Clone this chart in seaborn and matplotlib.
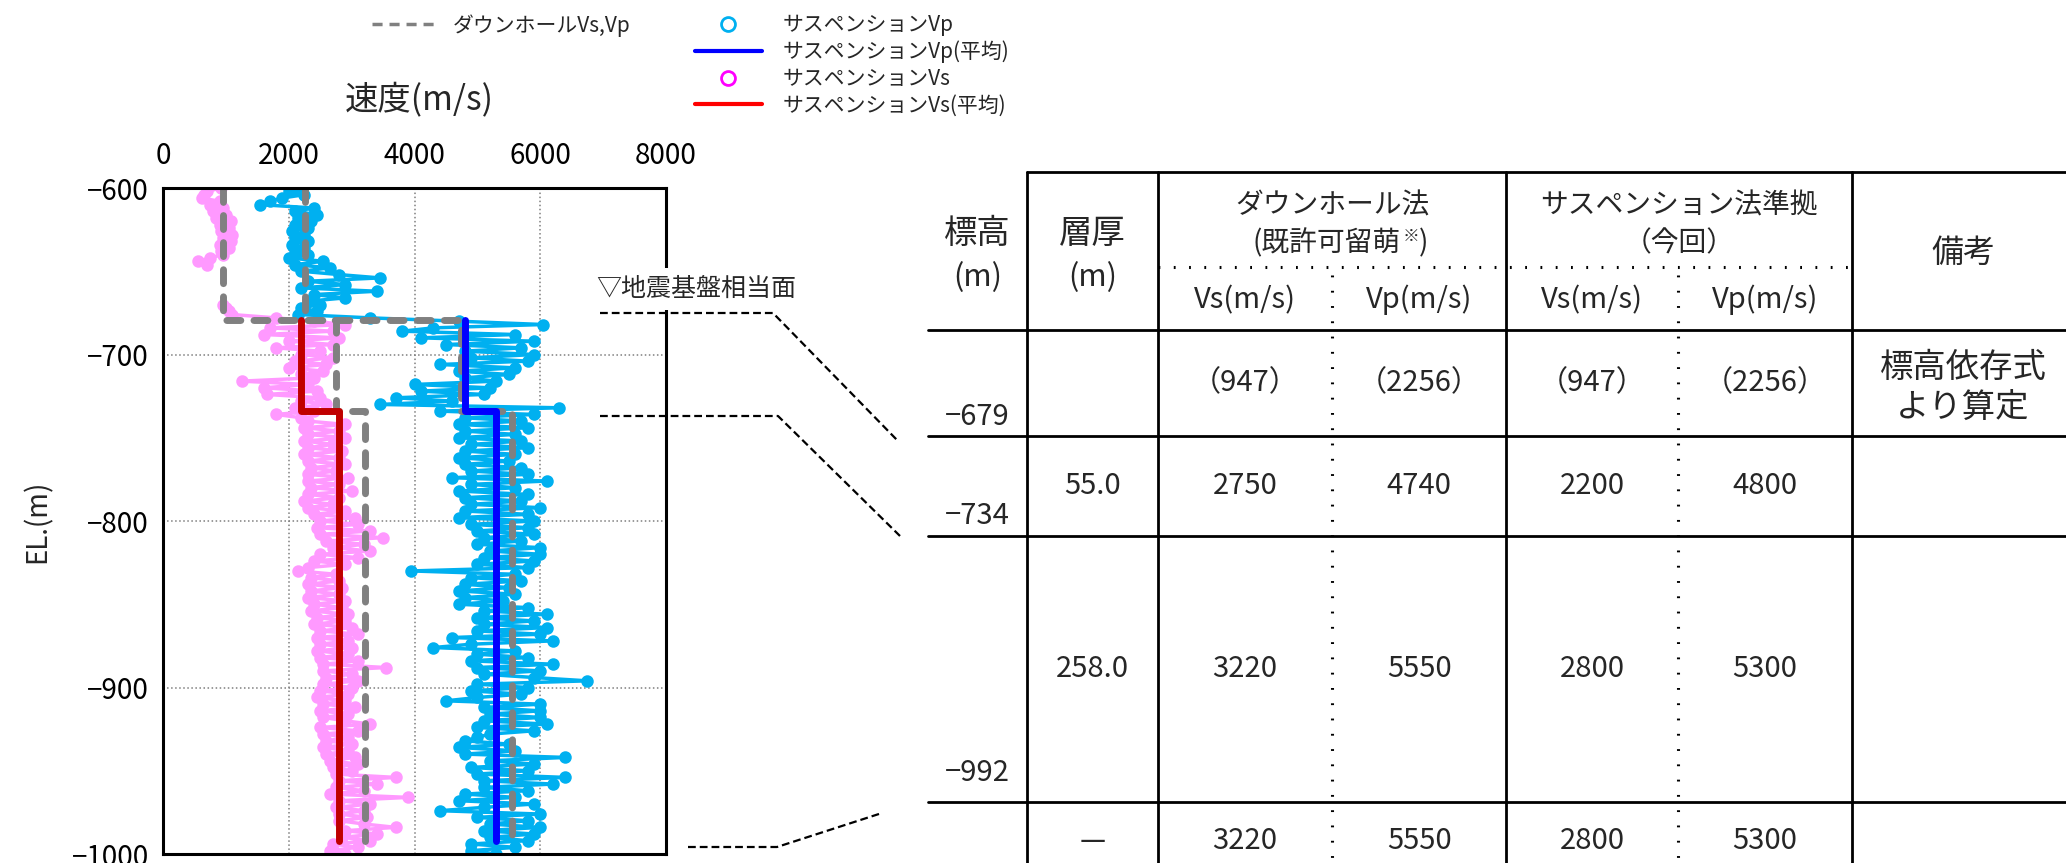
"""
Suspension / downhole velocity log vs. EL, with the layer table on the right
"""

import numpy as np
import pandas as pd
import matplotlib
matplotlib.use("Agg")
import matplotlib.pyplot as plt
from matplotlib.lines import Line2D
import seaborn as sns

# ── Table values (layer model) ───────────────────────────────────────────────
EL_BOUNDS = [-600, -679, -734, -992]          # layer boundaries (m)
TBL_EL = ["−679", "−734", "−992"]
TBL_THICK = ["", "55.0", "258.0", "—"]
TBL_DH_VS = [947, 2750, 3220, 3220]
TBL_DH_VP = [2256, 4740, 5550, 5550]
TBL_SUS_VS = [947, 2200, 2800, 2800]
TBL_SUS_VP = [2256, 4800, 5300, 5300]

# ── Suspension log, 2 m sampling from EL -600 to -1000 ───────────────────────
DEPTH = np.arange(-600, -1001, -2)
SUS_VP = [
    2180, 2000, 2250, 1900, 1700, 1550, 2400, 2100, 2450, 2150,
    2350, 2100, 2300, 2050, 2250, 2100, 2300, 2050, 2250, 2100,
    2300, 2000, 2550, 2100, 2650, 2200, 2800, 3450, 2300, 2900,
    2200, 3400, 2400, 2900, 2300, 2500, 2200, 2450, 2150, 3300,
    4700, 6050, 4300, 3800, 5600, 4100, 5900, 4500, 5700, 4800,
    5900, 4900, 5800, 4400, 5600, 4700, 5500, 4800, 5300, 4000,
    5200, 4100, 5100, 3700, 4600, 3450, 6300, 4400, 5900, 4800,
    5700, 4700, 5800, 4800, 5600, 4700, 5700, 4900, 5800, 4800,
    5600, 4700, 5500, 4800, 5700, 4900, 5800, 4600, 6100, 4900,
    5600, 4700, 5800, 4800, 5700, 4900, 6000, 4800, 5800, 4700,
    5900, 4900, 5800, 5000, 5900, 5100, 5700, 5000, 6000, 5200,
    6000, 5100, 5900, 5000, 5800, 3950, 5600, 4900, 5700, 4800,
    5500, 4700, 5600, 4800, 5400, 4700, 5800, 5100, 6100, 5000,
    5900, 5100, 6100, 5000, 6000, 4600, 6200, 4900, 4300, 5600,
    5000, 5800, 4900, 6200, 5000, 6000, 5100, 5900, 6750, 5000,
    5800, 4900, 5700, 5000, 4500, 6000, 5100, 6000, 5200, 6000,
    5100, 6100, 5000, 5900, 5200, 5000, 4800, 5500, 4700, 5600,
    4800, 6400, 5200, 5900, 4900, 5800, 5000, 6400, 5100, 6200,
    5100, 5800, 4800, 5600, 4700, 5900, 5100, 4400, 6000, 5000,
    5800, 5200, 6000, 5100, 5900, 5200, 5800, 4900, 5600, 4900,
    5300,
]
nan = np.nan
SUS_VS = [
    930, 700, 650, 620, 900, 750, 950, 800, 1000, 850,
    1080, 900, 1050, 920, 1100, 950, 1080, 900, 1050, 920,
    950, 750, 560, 700, nan, nan, nan, nan, nan, nan,
    nan, nan, nan, nan, nan, 950, 1000, 1050, 1100, 1800,
    2400, 2900, 1700, 2700, 1600, 2800, 2000, 2700, 1800, 2500,
    2200, 2700, 2100, 2600, 2000, 2550, 2200, 2400, 1250, 2300,
    1600, 2450, 1650, 2500, 2200, 2600, 2100, 2400, 1800, 2200,
    2300, 2900, 2250, 2800, 2300, 2900, 2250, 2700, 2300, 2850,
    2250, 2800, 2300, 2900, 2350, 2750, 2300, 2950, 2300, 2800,
    2350, 3000, 2300, 2800, 2250, 2700, 2300, 2900, 2400, 3050,
    2500, 3100, 2450, 3300, 2500, 3500, 2600, 3200, 2700, 3300,
    2500, 3100, 2400, 2900, 2300, 2150, 2750, 2350, 2800, 2300,
    2850, 2350, 2800, 2300, 2900, 2400, 2850, 2350, 2950, 2450,
    2900, 2400, 3000, 2500, 3100, 2450, 2950, 2500, 3000, 2450,
    2950, 2500, 3100, 2550, 3550, 2550, 3000, 2600, 3100, 2550,
    3000, 2500, 2950, 2450, 2900, 2550, 3050, 2500, 2950, 2550,
    2900, 3300, 2500, 3100, 2550, 2950, 2600, 3000, 2550, 2950,
    2600, 3050, 2650, 3100, 2700, 3000, 2750, 3700, 2800, 3400,
    2750, 3200, 2650, 3900, 2800, 3300, 2750, 3200, 2800, 3250,
    2800, 3200, 3700, 2900, 3400, 2850, 3300, 2700, 3100, 2650,
    2900,
]

W, H = 2066, 863
FONT = ["Noto Sans CJK JP", "DejaVu Sans"]

C_VP = "#00B0F0"
C_VS = "#FF99FF"
C_DH = "#808080"


def fx(x):
    return x / W


def fy(y):
    return 1 - y / H


def steps(vals, bounds):
    """Step profile vertices (x=velocity, y=EL) for a layered model."""
    xs, ys = [], []
    for v, top, bot in zip(vals, bounds[:-1], bounds[1:]):
        xs += [v, v]
        ys += [top, bot]
    return xs, ys


sns.set_style("white")
plt.rcParams["font.family"] = FONT
plt.rcParams["axes.unicode_minus"] = True

fig = plt.figure(figsize=(W / 100, H / 100), dpi=100)
ax = fig.add_axes([fx(163), fy(854), (666 - 163) / W, (854 - 188) / H])

# ── Suspension log ──────────────────────────────────────────────────────────
log = pd.DataFrame({"el": DEPTH, "vp": SUS_VP, "vs": SUS_VS})
log["seg"] = log["vs"].isna().cumsum()
marker_kw = dict(marker="o", markersize=7.5, markeredgewidth=1.5,
                 linewidth=2.5)
sns.lineplot(data=log.dropna(subset=["vs"]), x="vs", y="el", units="seg",
             estimator=None, sort=False, color=C_VS, markerfacecolor=C_VS,
             markeredgecolor=C_VS, ax=ax, **marker_kw)
sns.lineplot(data=log, x="vp", y="el", estimator=None, sort=False,
             color=C_VP, markerfacecolor=C_VP, markeredgecolor=C_VP,
             ax=ax, **marker_kw)

# ── Downhole (gray dashed) ──────────────────────────────────────────────────
for vals in (TBL_DH_VS[:3], TBL_DH_VP[:3]):
    xs, ys = steps(vals, EL_BOUNDS)
    sns.lineplot(x=xs, y=ys, sort=False, estimator=None, color=C_DH,
                 linewidth=5, linestyle=(0, (2.0, 1.9)),
                 dash_capstyle="round", ax=ax)

# ── Suspension averages ─────────────────────────────────────────────────────
xs, ys = steps(TBL_SUS_VS[1:3], EL_BOUNDS[1:])
sns.lineplot(x=xs, y=ys, sort=False, estimator=None, color="#C00000",
             linewidth=5, ax=ax)
xs, ys = steps(TBL_SUS_VP[1:3], EL_BOUNDS[1:])
sns.lineplot(x=xs, y=ys, sort=False, estimator=None, color="#0000FF",
             linewidth=5, ax=ax)

ax.set_xlim(0, 8000)
ax.set_ylim(-1000, -600)
ax.set_xticks([0, 2000, 4000, 6000, 8000])
ax.set_yticks([-600, -700, -800, -900, -1000])
ax.xaxis.tick_top()
ax.tick_params(axis="both", length=0, labelsize=20, colors="black")
ax.tick_params(axis="x", pad=12)
ax.tick_params(axis="y", pad=10)
ax.grid(True, color="#7f7f7f", linestyle=":", linewidth=1.1)
for sp in ax.spines.values():
    sp.set_color("black")
    sp.set_linewidth(2.2)
ax.set_xlabel("")
ax.set_ylabel("EL.(m)", fontsize=20)
ax.yaxis.set_label_coords(-0.22, 0.5)

fig.text(fx(419), fy(100), "速度(m/s)", ha="center", va="center", fontsize=24)

# ── Legends ─────────────────────────────────────────────────────────────────
h_dh = Line2D([], [], color=C_DH, linewidth=2.5, linestyle=(0, (2.9, 2.0)))
h_vp = Line2D([], [], linestyle="none", marker="o", markersize=10,
              markerfacecolor="none", markeredgecolor=C_VP, markeredgewidth=2)
h_vpa = Line2D([], [], color="#0000FF", linewidth=3)
h_vs = Line2D([], [], linestyle="none", marker="o", markersize=10,
              markerfacecolor="none", markeredgecolor="#FF00FF", markeredgewidth=2)
h_vsa = Line2D([], [], color="#FF0000", linewidth=3)

fig.legend([h_dh], ["ダウンホールVs,Vp"], loc="upper left",
           bbox_to_anchor=(fx(372), fy(14)), frameon=False, fontsize=15,
           handlelength=3.2, handletextpad=0.7, borderpad=0, borderaxespad=0)
fig.legend([h_vp, h_vpa, h_vs, h_vsa],
           ["サスペンションVp", "サスペンションVp(平均)",
            "サスペンションVs", "サスペンションVs(平均)"],
           loc="upper left", bbox_to_anchor=(fx(695), fy(14)), frameon=False,
           fontsize=15, handlelength=3.2, handletextpad=1.0,
           labelspacing=0.22, borderpad=0, borderaxespad=0)

# ── Seismic bedrock label and leader lines ──────────────────────────────────
fig.text(fx(596), fy(289), "▽地震基盤相当面", ha="left", va="center",
         fontsize=18, bbox=dict(facecolor="white", edgecolor="none", pad=6))
leaders = [
    [(600, 313), (773, 313), (897, 440)],
    [(600, 416), (778, 416), (900, 536)],
    [(688, 847), (777, 847), (882, 813)],
]
for pts in leaders:
    fig.add_artist(Line2D([fx(p[0]) for p in pts], [fy(p[1]) for p in pts],
                          transform=fig.transFigure, color="black",
                          linewidth=1.6, linestyle=(0, (3.5, 1.8))))

# ── Table ───────────────────────────────────────────────────────────────────
COLS = [928, 1027, 1158, 1332, 1506, 1678, 1852, 2074]
ROWS = [330, 436, 536, 802, 880]
TOP, SUB = 172, 267


def tline(xs, ys, style="-"):
    fig.add_artist(Line2D([fx(x) for x in xs], [fy(y) for y in ys],
                          transform=fig.transFigure, color="black",
                          linewidth=2 if style == "-" else 2.2,
                          linestyle="-" if style == "-" else (0, (0.6, 4.4)),
                          dash_capstyle="butt"))


tline([COLS[1], W + 5], [TOP, TOP])
tline([COLS[2], COLS[6]], [SUB, SUB], ":")
for y in ROWS[:4]:
    tline([COLS[0], W + 5], [y, y])
for x in (COLS[1], COLS[2], COLS[4], COLS[6]):
    tline([x, x], [TOP, H + 5])
for x in (COLS[3], COLS[5]):
    tline([x, x], [SUB + 8, H + 5], ":")


def cell(x, y, s, size=21, ha="center"):
    fig.text(fx(x), fy(y), s, ha=ha, va="center", fontsize=size)


mid = [(a + b) / 2 for a, b in zip(COLS[:-1], COLS[1:])]
cell(mid[0], 233, "標高", 24)
cell(mid[0], 278, "(m)", 22)
cell(mid[1], 233, "層厚", 24)
cell(mid[1], 278, "(m)", 22)
cell((COLS[2] + COLS[4]) / 2, 205, "ダウンホール法", 20)
cell(1401, 243, "(既許可留萌", 20, ha="right")
fig.text(fx(1403), fy(236), "※", ha="left", va="center", fontsize=12)
fig.text(fx(1419), fy(243), ")", ha="left", va="center", fontsize=20)
cell((COLS[4] + COLS[6]) / 2, 205, "サスペンション法準拠", 20)
cell((COLS[4] + COLS[6]) / 2, 243, "（今回）", 20)
for i in range(2, 6):
    cell(mid[i], 300, "Vs(m/s)" if i % 2 == 0 else "Vp(m/s)", 21)
cell(mid[6], 253, "備考", 23)

row_mid = [(a + b) / 2 for a, b in zip(ROWS[:-1], ROWS[1:])]
for r, yc in enumerate(row_mid):
    cell(mid[1], yc, TBL_THICK[r])
    for i, col in enumerate((TBL_DH_VS, TBL_DH_VP, TBL_SUS_VS, TBL_SUS_VP)):
        txt = f"（{col[r]}）" if r == 0 else f"{col[r]}"
        cell(mid[2 + i], yc, txt)
for lab, y in zip(TBL_EL, [417, 516, 773]):
    cell(1010, y, lab, 21, ha="right")
cell(mid[6], 367, "標高依存式", 24)
cell(mid[6], 407, "より算定", 24)

fig.savefig("out.png", dpi=100)
